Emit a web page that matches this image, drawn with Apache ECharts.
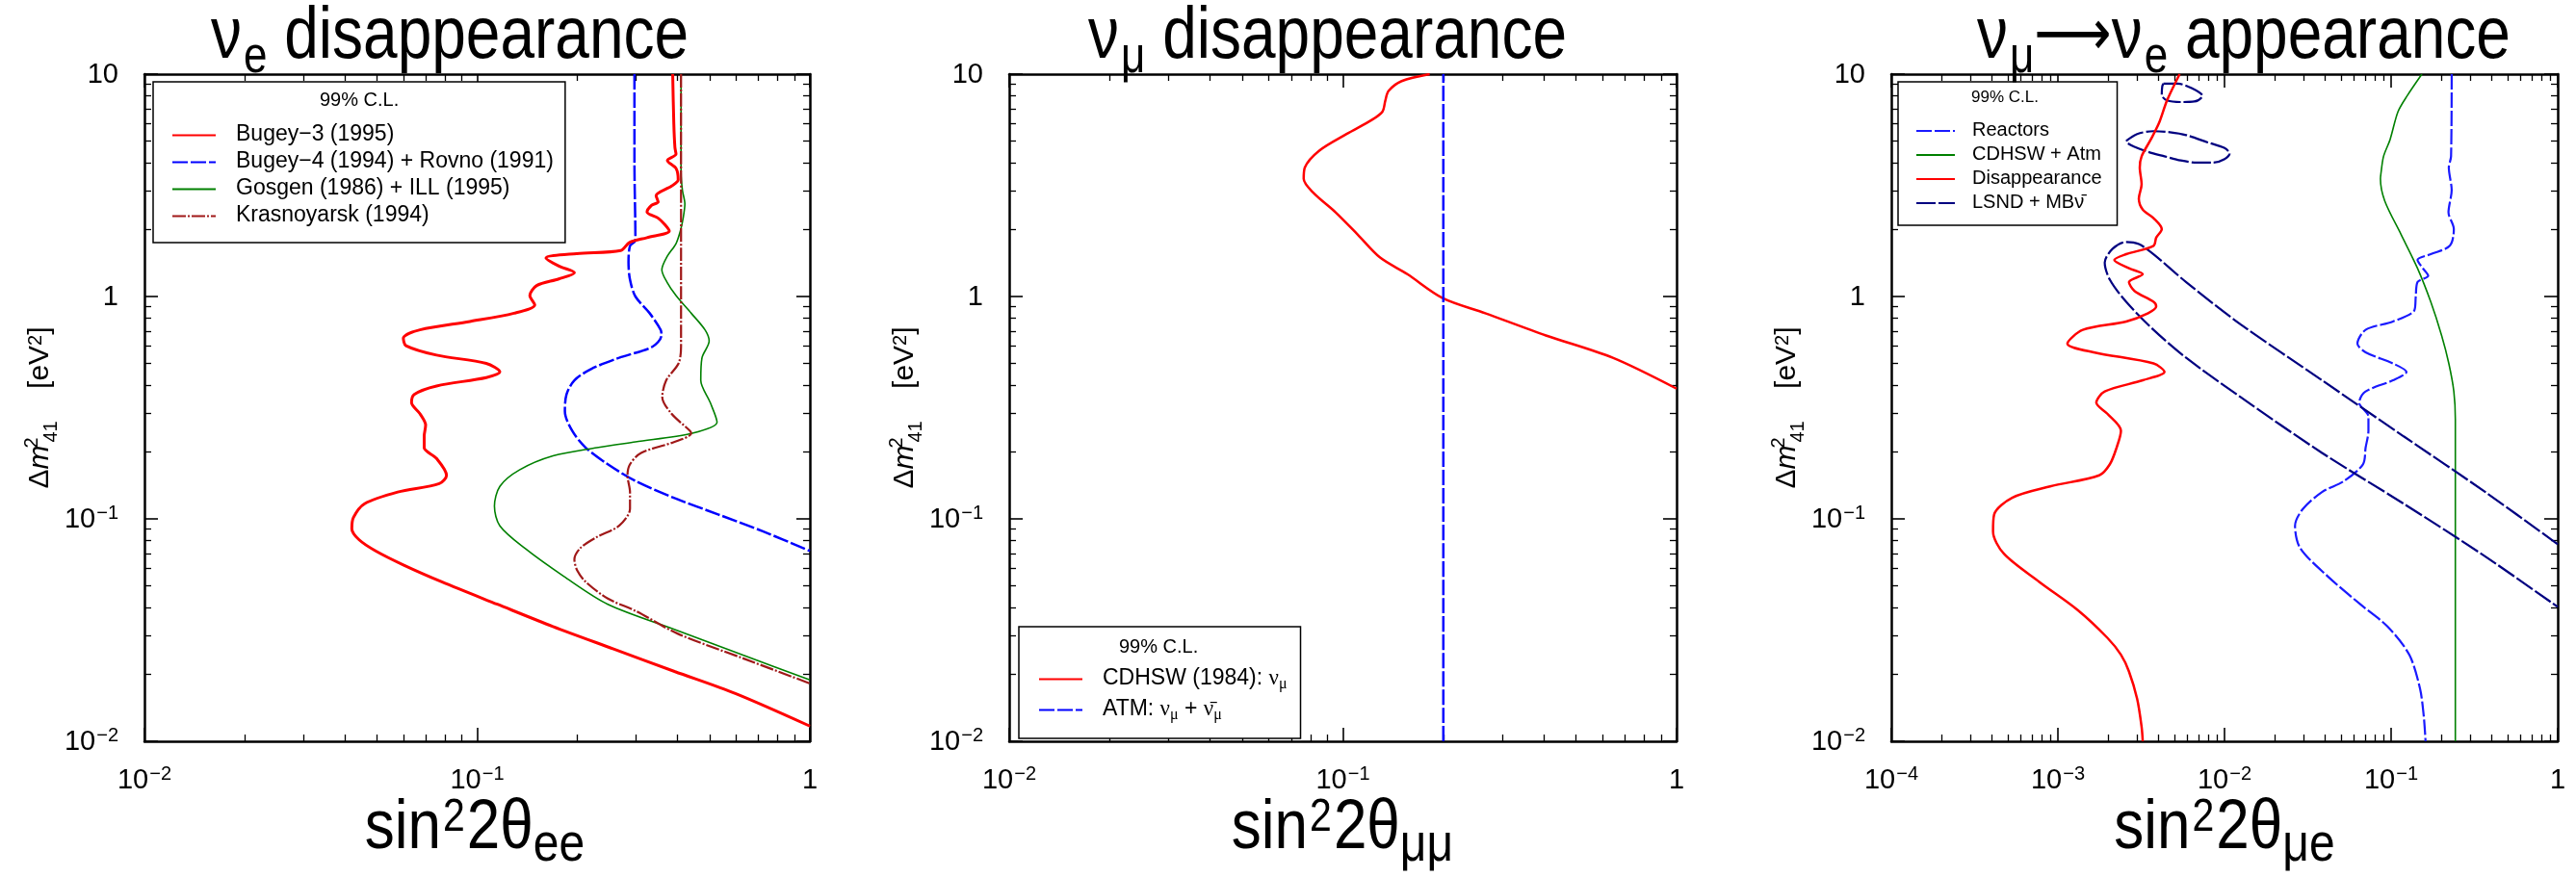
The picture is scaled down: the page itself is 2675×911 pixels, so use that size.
<!DOCTYPE html>
<html><head><meta charset="utf-8">
<script src="https://cdn.jsdelivr.net/npm/echarts@6/dist/echarts.min.js"></script>
<style>html,body{margin:0;padding:0;background:#fff}#c{width:2675px;height:911px}</style>
</head><body><div id="c"></div>
<script>
// ---------- tick values and labels ----------
const xTicks12 = [0.01, 0.1, 1];
const xLabels12 = ['{b|10}{sup|−2}', '{b|10}{sup|−1}', '{b|1}'];
const xTicks3 = [0.0001, 0.001, 0.01, 0.1, 1];
const xLabels3 = ['{b|10}{sup|−4}', '{b|10}{sup|−3}', '{b|10}{sup|−2}', '{b|10}{sup|−1}', '{b|1}'];
const yTicks = [0.01, 0.1, 1, 10];
const yLabels = ['{b|10}{sup|−2}', '{b|10}{sup|−1}', '{b|1}', '{b|10}'];

// ---------- panel 1: nu_e disappearance ----------
const bugey3 = [[0.387,10],[0.390,6.0],[0.393,4.68],[0.396,4.37],[0.373,4.09],[0.396,3.77],[0.402,3.35],[0.384,3.14],[0.345,2.84],[0.350,2.66],[0.334,2.57],[0.324,2.40],[0.350,2.25],[0.367,2.10],[0.378,1.97],[0.324,1.84],[0.287,1.75],[0.270,1.61],[0.199,1.56],[0.161,1.49],[0.176,1.37],[0.196,1.28],[0.176,1.20],[0.151,1.12],[0.144,1.01],[0.149,0.917],[0.129,0.841],[0.0951,0.772],[0.0673,0.708],[0.060,0.649],[0.0611,0.601],[0.0755,0.545],[0.1065,0.500],[0.117,0.458],[0.1065,0.432],[0.0755,0.396],[0.0647,0.363],[0.0635,0.333],[0.0673,0.297],[0.070,0.264],[0.0693,0.235],[0.0693,0.209],[0.0755,0.187],[0.0809,0.157],[0.0769,0.144],[0.0577,0.132],[0.0459,0.117],[0.0425,0.1016],[0.0420,0.0904],[0.0442,0.0805],[0.0495,0.0718],[0.060,0.0621],[0.0783,0.0521],[0.115,0.0413],[0.169,0.0328],[0.257,0.026],[0.392,0.0206],[0.597,0.0164],[1,0.0117]];
const bugey4 = [[0.297,10],[0.297,4],[0.299,1.79],[0.288,1.69],[0.285,1.42],[0.288,1.19],[0.299,1.0],[0.330,0.841],[0.356,0.708],[0.358,0.668],[0.336,0.594],[0.267,0.530],[0.220,0.472],[0.196,0.420],[0.1856,0.363],[0.1835,0.305],[0.193,0.249],[0.212,0.209],[0.247,0.176],[0.299,0.148],[0.392,0.124],[0.532,0.1045],[0.722,0.0879],[1,0.0718]];
const gosgen = [[0.410,10],[0.410,3.6],[0.414,3.0],[0.421,2.61],[0.416,2.25],[0.408,1.97],[0.396,1.73],[0.372,1.51],[0.359,1.32],[0.372,1.16],[0.396,1.01],[0.440,0.841],[0.484,0.708],[0.498,0.630],[0.474,0.530],[0.470,0.420],[0.502,0.333],[0.526,0.272],[0.440,0.242],[0.299,0.222],[0.229,0.209],[0.169,0.192],[0.134,0.166],[0.117,0.140],[0.1127,0.114],[0.117,0.0931],[0.139,0.0738],[0.182,0.0552],[0.247,0.0413],[0.40,0.0315],[0.63,0.0244],[1,0.0189]];
const krasnoyarsk = [[0.410,10],[0.410,0.7],[0.410,0.594],[0.403,0.500],[0.370,0.420],[0.360,0.353],[0.384,0.297],[0.436,0.249],[0.440,0.242],[0.392,0.222],[0.311,0.198],[0.288,0.176],[0.283,0.157],[0.288,0.132],[0.288,0.111],[0.267,0.0931],[0.229,0.0829],[0.204,0.0738],[0.196,0.0657],[0.200,0.0585],[0.212,0.0521],[0.247,0.0438],[0.30,0.0385],[0.40,0.0305],[0.63,0.0236],[1,0.0182]];

// ---------- panel 2: nu_mu disappearance ----------
const cdhsw = [[0.182,10],[0.150,9.3],[0.137,8.4],[0.134,7.6],[0.1314,6.78],[0.122,6.22],[0.1026,5.38],[0.0848,4.52],[0.0769,3.80],[0.0763,3.38],[0.0815,2.93],[0.0951,2.39],[0.1107,1.90],[0.129,1.50],[0.156,1.26],[0.199,0.984],[0.267,0.841],[0.406,0.668],[0.644,0.530],[1,0.385]];
const atm = [[0.2,0.01],[0.2,10]];

// ---------- panel 3: nu_mu -> nu_e appearance ----------
const reactors = [[0.231,10],[0.229,4.27],[0.222,3.80],[0.231,3.01],[0.221,2.39],[0.238,2.01],[0.225,1.69],[0.173,1.55],[0.144,1.46],[0.155,1.34],[0.167,1.24],[0.144,1.16],[0.1406,1.0],[0.138,0.867],[0.1026,0.772],[0.0703,0.708],[0.0628,0.613],[0.0703,0.561],[0.1026,0.5],[0.1236,0.458],[0.1026,0.42],[0.0703,0.374],[0.0643,0.333],[0.0731,0.288],[0.0731,0.249],[0.0703,0.209],[0.0678,0.176],[0.0521,0.148],[0.0385,0.132],[0.0296,0.111],[0.0265,0.0931],[0.0285,0.0738],[0.0416,0.0552],[0.0653,0.0413],[0.0951,0.0328],[0.1285,0.0245],[0.149,0.0173],[0.157,0.013],[0.161,0.01]];
const cdhswAtm = [[0.153,10],[0.125,8],[0.110,6.78],[0.0986,5.08],[0.0901,4.27],[0.0869,3.58],[0.0863,3.38],[0.0916,2.69],[0.1148,1.90],[0.144,1.34],[0.173,0.946],[0.201,0.668],[0.222,0.5],[0.238,0.374],[0.243,0.28],[0.243,0.01]];
const disappearance = [[0.00538,10],[0.00452,7.62],[0.00405,6.04],[0.00361,5.08],[0.00318,4.27],[0.0031,3.8],[0.00318,3.19],[0.00306,2.76],[0.00323,2.46],[0.00375,2.25],[0.0042,2.01],[0.00389,1.84],[0.00375,1.69],[0.00257,1.55],[0.00218,1.46],[0.00267,1.34],[0.00323,1.26],[0.00267,1.16],[0.00288,1.06],[0.00375,0.946],[0.00389,0.902],[0.00348,0.841],[0.00257,0.772],[0.00141,0.708],[0.00114,0.613],[0.00164,0.561],[0.00375,0.5],[0.00436,0.458],[0.00323,0.42],[0.00191,0.374],[0.0017,0.333],[0.00198,0.297],[0.00239,0.249],[0.00225,0.209],[0.00205,0.176],[0.00177,0.157],[0.000898,0.14],[0.000531,0.1245],[0.000414,0.1045],[0.000408,0.0879],[0.000474,0.0697],[0.000773,0.0521],[0.00131,0.039],[0.00198,0.0292],[0.00239,0.0245],[0.00267,0.0206],[0.00299,0.0155],[0.00318,0.0116],[0.00323,0.01]];
const lsndLoopTop = [[0.0043,9.06],[0.00526,9.06],[0.00634,8.65],[0.00738,7.98],[0.00659,7.53],[0.00546,7.49],[0.00452,7.62],[0.0042,8.07],[0.00423,8.81],[0.0043,9.06]];
const lsndLoopMid = [[0.00257,5.01],[0.00299,5.38],[0.00375,5.54],[0.0047,5.48],[0.00589,5.32],[0.00794,4.93],[0.00995,4.66],[0.01074,4.40],[0.00995,4.14],[0.00857,4.0],[0.00684,4.0],[0.00546,4.09],[0.00436,4.27],[0.00348,4.47],[0.00288,4.71],[0.00261,4.90],[0.00257,5.01]];
const lsndBand = [[1,0.0769],[0.368,0.132],[0.119,0.235],[0.0385,0.42],[0.01247,0.75],[0.00589,1.16],[0.00375,1.55],[0.00306,1.72],[0.00257,1.76],[0.00213,1.64],[0.00191,1.42],[0.00205,1.19],[0.00257,0.946],[0.00375,0.708],[0.00589,0.53],[0.01247,0.353],[0.0385,0.198],[0.119,0.117],[0.368,0.0677],[1,0.0402]];

// ---------- names ----------
const names1 = ['Bugey−3 (1995)', 'Bugey−4 (1994) + Rovno (1991)', 'Gosgen (1986) + ILL (1995)', 'Krasnoyarsk (1994)'];
const names2 = ['CDHSW (1984): νμ', 'ATM: νμ + ν̄μ'];
const names3 = ['Reactors', 'CDHSW + Atm', 'Disappearance', 'LSND + MBν̄'];
const legendRich = {
  'CDHSW (1984): νμ': '{t|CDHSW (1984): }{g|ν}{gs|μ}',
  'ATM: νμ + ν̄μ': '{t|ATM: }{g|ν}{gs|μ}{t| + }{g|ν̄}{gs|μ}',
  'LSND + MBν̄': '{t|LSND + MB}{t|ν̄}'
};
const titles = ['{b|ν}{s|e}{b| disappearance}', '{b|ν}{s|μ}{b| disappearance}', '{b|ν}{s|μ}{a|⟶}{b|ν}{s|e}{b| appearance}'];
const xNames = ['{b|sin}{sup|2}{b|2θ}{sub|ee}', '{b|sin}{sup|2}{b|2θ}{sub|μμ}', '{b|sin}{sup|2}{b|2θ}{sub|μe}'];
const yName = '{b|Δ}{m|m}{sup0|2}{sub|41}{b|    [eV}{sup|2}{b|]}';

const FONT = '"Liberation Sans", Arial, Helvetica, sans-serif';
const SERIF = '"Liberation Serif", "DejaVu Serif", serif';

function labelFor(v, vals, labs) {
  for (let i = 0; i < vals.length; i++) {
    if (Math.abs(Math.log10(vals[i]) - Math.log10(v)) < 1e-6) return labs[i];
  }
  return '';
}
function tickRich() {
  return {
    b: {fontSize: 29, fontFamily: FONT, color: '#000', lineHeight: 31, verticalAlign: 'bottom'},
    sup: {fontSize: 20, fontFamily: FONT, color: '#000', lineHeight: 20, verticalAlign: 'top', padding: [0, 0, 0, 1]}
  };
}
function mkAxis(extra) {
  return Object.assign({
    type: 'log', logBase: 10,
    splitLine: {show: false}, minorSplitLine: {show: false},
    axisLine: {show: true, onZero: false, lineStyle: {color: '#000', width: 2.5}},
    axisTick: {show: true, inside: true, length: 14, lineStyle: {color: '#000', width: 1.6}},
    minorTick: {show: true, splitNumber: 9, length: 7, lineStyle: {color: '#000', width: 1.3}}
  }, extra);
}
function xAxisPair(gi, min, max, vals, labs) {
  return [
    mkAxis({gridIndex: gi, min: min, max: max, position: 'bottom',
      axisLabel: {show: true, margin: 24, formatter: v => labelFor(v, vals, labs), rich: tickRich(), fontSize: 29, fontFamily: FONT, color: '#000'}}),
    mkAxis({gridIndex: gi, min: min, max: max, position: 'top', axisLabel: {show: false}})
  ];
}
function yAxisPair(gi) {
  return [
    mkAxis({gridIndex: gi, min: 0.01, max: 10, position: 'left',
      axisLabel: {show: true, margin: 27, formatter: v => labelFor(v, yTicks, yLabels), rich: tickRich(), fontSize: 29, fontFamily: FONT, color: '#000'},
      name: yName, nameLocation: 'middle', nameGap: 90, nameRotate: 90,
      nameTextStyle: {fontSize: 30, fontFamily: FONT, color: '#000', rich: {
        b: {fontSize: 30, fontFamily: FONT, color: '#000', lineHeight: 32, verticalAlign: 'top'},
        m: {fontSize: 30, fontFamily: FONT, fontStyle: 'italic', color: '#000', lineHeight: 32, verticalAlign: 'top', padding: [0, 2, 0, 0]},
        sup0: {fontSize: 20, fontFamily: FONT, color: '#000', lineHeight: 20, verticalAlign: 'top', width: 1, align: 'left', padding: [-4, 0, 0, 0]},
        sup: {fontSize: 20, fontFamily: FONT, color: '#000', lineHeight: 20, verticalAlign: 'top'},
        sub: {fontSize: 20, fontFamily: FONT, color: '#000', lineHeight: 20, verticalAlign: 'top', padding: [16, 0, 0, 0]}
      }}}),
    mkAxis({gridIndex: gi, min: 0.01, max: 10, position: 'right', axisLabel: {show: false}})
  ];
}

function line(name, data, xi, yi, color, width, type, z) {
  return {
    type: 'line', name: name, data: data, xAxisIndex: xi, yAxisIndex: yi,
    symbol: 'none', showSymbol: false, smooth: 0.3, clip: true, z: z || 2,
    lineStyle: {color: color, width: width, type: type || 'solid'},
    itemStyle: {color: color}
  };
}

function bigText(text, x, y, align, fs, sy) {
  return {
    type: 'text', x: x, y: y, scaleY: sy, z: 100, silent: true,
    style: {
      text: text, align: align, textAlign: align, verticalAlign: 'top', textVerticalAlign: 'top',
      fontSize: fs, fontFamily: FONT, fill: '#000',
      rich: {
        b: {fontSize: fs, fontFamily: FONT, fill: '#000', lineHeight: fs + 2, verticalAlign: 'top'},
        s: {fontSize: Math.round(fs * 0.69), fontFamily: FONT, fill: '#000', lineHeight: Math.round(fs * 0.69), verticalAlign: 'top', padding: [Math.round(fs * 0.44), 0, 0, 2]},
        a: {fontSize: Math.round(fs * 0.88), fontFamily: '"DejaVu Sans", sans-serif', fill: '#000', lineHeight: fs, verticalAlign: 'top', padding: [Math.round(fs * 0.08), 0, 0, 0]},
        sup: {fontSize: Math.round(fs * 0.66), fontFamily: FONT, fill: '#000', lineHeight: Math.round(fs * 0.66), verticalAlign: 'top', padding: [0, 2, 0, 2]},
        sub: {fontSize: Math.round(fs * 0.77), fontFamily: FONT, fill: '#000', lineHeight: Math.round(fs * 0.77), verticalAlign: 'top', padding: [Math.round(fs * 0.36), 0, 0, 0]}
      }
    }
  };
}

function legendBox(names, left, top, pad, fontSize, itemWidth, gapText, itemGap) {
  return {
    data: names, orient: 'vertical', left: left, top: top, padding: pad,
    itemWidth: itemWidth, itemHeight: 14, itemGap: itemGap,
    borderColor: '#000', borderWidth: 1.5, backgroundColor: '#fff', borderRadius: 0,
    selectedMode: false,
    itemStyle: {opacity: 0},
    formatter: n => legendRich[n] || ('{t|' + n + '}'),
    textStyle: {
      fontSize: fontSize, fontFamily: FONT, color: '#000', padding: [0, 0, 0, gapText],
      rich: {
        t: {fontSize: fontSize, fontFamily: FONT, color: '#000', lineHeight: fontSize + 2, verticalAlign: 'top'},
        g: {fontSize: fontSize, fontFamily: SERIF, color: '#000', lineHeight: fontSize + 2, verticalAlign: 'top'},
        gs: {fontSize: Math.round(fontSize * 0.7), fontFamily: SERIF, color: '#000', lineHeight: fontSize * 0.7, verticalAlign: 'top', padding: [Math.round(fontSize * 0.45), 0, 0, 0]}
      }
    }
  };
}

const chart = echarts.init(document.getElementById('c'), null, {renderer: 'canvas'});
chart.setOption({
  animation: false,
  backgroundColor: '#fff',
  grid: [
    {left: 150, top: 77, width: 691, height: 693},
    {left: 1048, top: 77, width: 693, height: 693},
    {left: 1964, top: 77, width: 692, height: 693}
  ],
  xAxis: [].concat(
    xAxisPair(0, 0.01, 1, xTicks12, xLabels12),
    xAxisPair(1, 0.01, 1, xTicks12, xLabels12),
    xAxisPair(2, 0.0001, 1, xTicks3, xLabels3)
  ),
  yAxis: [].concat(yAxisPair(0), yAxisPair(1), yAxisPair(2)),
  legend: [
    legendBox(names1, 159, 85, [43, 12, 17, 19], 23, 45, 16, 5),
    legendBox(names2, 1058, 651, [42, 14, 16, 20], 23, 45, 16, 6),
    legendBox(names3, 1971, 85, [40, 16, 14, 18], 20, 40, 13, 5)
  ],
  graphic: [
    bigText(titles[0], 219, 0, 'left', 64, 1.2),
    bigText(titles[1], 1130, 0, 'left', 64, 1.2),
    bigText(titles[2], 2053, 0, 'left', 64, 1.2),
    bigText(xNames[0], 493, 826, 'center', 62, 1.15),
    bigText(xNames[1], 1394, 826, 'center', 62, 1.15),
    bigText(xNames[2], 2310, 826, 'center', 62, 1.15),
    {type: 'text', left: 332, top: 94, z: 100, style: {text: '99% C.L.', fontSize: 20, fontFamily: FONT, fill: '#000'}},
    {type: 'text', left: 1162, top: 662, z: 100, style: {text: '99% C.L.', fontSize: 20, fontFamily: FONT, fill: '#000'}},
    {type: 'text', left: 2047, top: 93, z: 100, style: {text: '99% C.L.', fontSize: 17, fontFamily: FONT, fill: '#000'}}
  ],
  series: [
    line(names1[0], bugey3, 0, 0, '#ff0000', 3, 'solid', 5),
    line(names1[1], bugey4, 0, 0, '#0000ff', 2.5, [16, 3]),
    line(names1[2], gosgen, 0, 0, '#008000', 1.6, 'solid'),
    line(names1[3], krasnoyarsk, 0, 0, '#a01818', 2.2, [14, 2, 2, 2]),
    line(names2[0], cdhsw, 2, 2, '#ff0000', 2.5, 'solid'),
    line(names2[1], atm, 2, 2, '#0000ff', 2.5, [16, 3]),
    line(names3[0], reactors, 4, 4, '#1a1aff', 2.2, [16, 3]),
    line(names3[1], cdhswAtm, 4, 4, '#008000', 1.6, 'solid'),
    line(names3[2], disappearance, 4, 4, '#ff0000', 2.5, 'solid', 5),
    line(names3[3], lsndLoopTop, 4, 4, '#000080', 2.2, [20, 3]),
    line(names3[3], lsndLoopMid, 4, 4, '#000080', 2.2, [20, 3]),
    line(names3[3], lsndBand, 4, 4, '#000080', 2.2, [20, 3])
  ]
});
</script></body></html>
